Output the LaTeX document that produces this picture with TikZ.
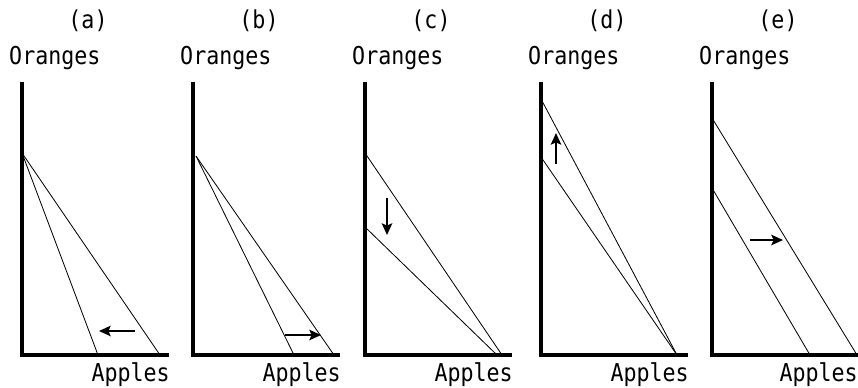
\documentclass[tikz,border=0pt]{standalone}
\usepackage{fontspec}
\setmonofont[FakeStretch=0.88]{DejaVu Sans Mono}
\usetikzlibrary{arrows.meta}
\tikzset{
    axisline/.style={line width=2.6pt},
    budget/.style={line width=0.7pt},
    shiftarrow/.style={-{Stealth[length=10pt, width=9pt, inset=2pt]}, line width=1.4pt},
    paneltext/.style={font=\ttfamily\fontsize{21}{22}\selectfont, inner sep=0pt},
}

\begin{document}
\begin{tikzpicture}[x=0.03cm, y=-0.03cm]
    \useasboundingbox (0,0) rectangle (858,387);

    % --- Assi e titoli, uguali nei cinque pannelli ---
    \foreach \ox/\lab in {22/a, 193/b, 365/c, 541/d, 712/e} {
        \draw[axisline] (\ox,82) -- (\ox,355) -- (\ox+147,355);
        \node[paneltext, anchor=base] (title-\lab) at (\ox+66,28) {(\lab)};
        \node[paneltext, anchor=base west] (ylab-\lab) at (\ox-13,64) {Oranges};
        \node[paneltext, anchor=base east] (xlab-\lab) at ({min(\ox+148,858)},381) {Apples};
    }

    % --- (a): ruota verso l'interno ---
    \coordinate (a-top) at (22,153);
    \draw[budget] (a-top) -- (98,355);
    \draw[budget] (a-top) -- (160,355);
    \coordinate (a-from) at (135,331);
    \coordinate (a-to) at (99,331);
    \draw[shiftarrow] (a-from) -- (a-to);

    % --- (b): ruota verso l'esterno ---
    \coordinate (b-top) at (196,156);
    \draw[budget] (b-top) -- (294,355);
    \draw[budget] (b-top) -- (334,355);
    \coordinate (b-from) at (285,335);
    \coordinate (b-to) at (321,335);
    \draw[shiftarrow] (b-from) -- (b-to);

    % --- (c): intercetta verticale scende ---
    \draw[budget] (365,153) -- (502,355);
    \draw[budget] (365,227) -- (497,355);
    \coordinate (c-from) at (387,198);
    \coordinate (c-to) at (387,235);
    \draw[shiftarrow] (c-from) -- (c-to);

    % --- (d): intercetta verticale sale ---
    \draw[budget] (541,99) -- (677,355);
    \draw[budget] (541,157) -- (677,355);
    \coordinate (d-from) at (556,164);
    \coordinate (d-to) at (556,133);
    \draw[shiftarrow] (d-from) -- (d-to);

    % --- (e): spostamento parallelo ---
    \draw[budget] (712,118) -- (857,355);
    \draw[budget] (712,188) -- (810,355);
    \coordinate (e-from) at (750,240);
    \coordinate (e-to) at (783,240);
    \draw[shiftarrow] (e-from) -- (e-to);

\end{tikzpicture}
\end{document}
